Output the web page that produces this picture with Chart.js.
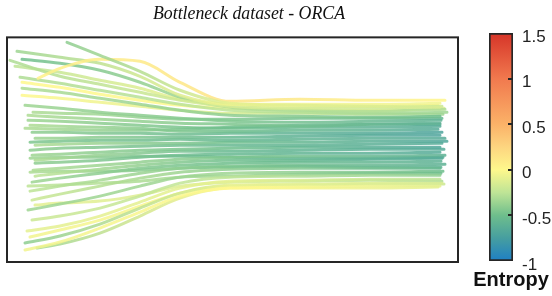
<!DOCTYPE html>
<html>
<head>
<meta charset="utf-8">
<script src="https://cdn.jsdelivr.net/npm/chart.js@4/dist/chart.umd.min.js"></script>
<style>
  body { margin: 0; background: #fff; overflow: hidden; }
  #main { position: absolute; left: 0; top: 0; }
  #bar { position: absolute; left: 470px; top: 0; }
</style>
</head>
<body>
<canvas id="main" width="498" height="296"></canvas>
<canvas id="bar" width="82" height="296"></canvas>
<script>
// trajectory samples: start point, y at shared x columns, end point
const columnX = [60, 100, 140, 180, 230, 300, 370];
const startX = [67, 38, 17, 10, 22, 20, 22, 22, 22, 25, 28, 28, 30, 32, 35, 30, 35, 30, 32, 35,
                35, 33, 35, 32, 30, 32, 28, 32, 27, 25, 25, 37, 25, 30, 28, 35, 30, 15, 33, 30];
const startY = [42, 78, 51, 60, 59, 77, 82, 88, 95, 105, 115, 120, 125, 132, 138, 142, 145, 150, 155, 160,
                163, 170, 176, 182, 191, 200, 210, 220, 231, 243, 250, 248, 128, 172, 186, 205, 237, 66, 112, 158];
const endX = [440, 445, 440, 442, 445, 447, 444, 440, 443, 441, 440, 440, 438, 442, 440, 445, 447, 442, 440, 444,
              440, 445, 442, 441, 445, 440, 443, 440, 440, 442, 440, 438, 440, 441, 441, 442, 444, 438, 442, 443];
const endY = [107, 100, 103, 106, 109, 112, 108, 116, 114, 120, 123, 126, 129, 132, 135, 138, 141, 143, 147, 149,
              152, 155, 158, 161, 164, 168, 171, 175, 179, 183, 186, 187, 124, 167, 173, 181, 184, 105, 118, 157];
const pathY = [
  [null, 55, 71, 90, 103, 105, 106],
  [68, 59, 61, 82, 101, 99, 100],
  [57, 63, 76, 95, 104, 104, 104],
  [76, 84, 92, 100, 106, 108, 108],
  [63, 70, 82, 97, 107, 110, 111],
  [83, 90, 97, 104, 110, 112, 113],
  [87, 94, 100, 105, 108, 109, 110],
  [92, 98, 104, 110, 115, 116, 117],
  [98, 102, 106, 110, 113, 113, 114],
  [108, 112, 115, 118, 121, 122, 121],
  [117, 119, 121, 123, 124, 126, 124],
  [121, 123, 125, 127, 128, 127, 127],
  [126, 127, 128, 131, 131, 130, 130],
  [132, 133, 133, 134, 133, 133, 133],
  [138, 137, 137, 137, 137, 136, 135],
  [141, 140, 140, 139, 140, 139, 138],
  [144, 143, 143, 143, 142, 142, 141],
  [148, 147, 146, 145, 145, 145, 144],
  [154, 152, 150, 149, 148, 147, 147],
  [158, 155, 153, 151, 151, 150, 149],
  [162, 160, 157, 155, 154, 153, 153],
  [168, 165, 162, 159, 157, 156, 156],
  [173, 169, 165, 162, 160, 160, 159],
  [178, 173, 168, 165, 163, 162, 162],
  [186, 180, 173, 168, 166, 165, 165],
  [194, 186, 178, 172, 169, 168, 168],
  [204, 196, 186, 177, 173, 172, 172],
  [216, 208, 196, 183, 177, 176, 175],
  [226, 216, 202, 188, 181, 180, 179],
  [236, 224, 208, 193, 185, 184, 183],
  [242, 228, 212, 196, 188, 187, 186],
  [244, 233, 216, 198, 188, 188, 188],
  [129, 130, 130, 129, 127, 125, 124],
  [171, 171, 170, 168, 167, 166, 167],
  [185, 183, 181, 177, 176, 174, 173],
  [203, 201, 195, 186, 182, 181, 180],
  [230, 220, 206, 193, 186, 185, 184],
  [72, 80, 88, 99, 104, 106, 106],
  [113, 114, 117, 119, 119, 118, 118],
  [157, 157, 156, 156, 157, 158, 158]
];
// entropy at the start, the middle (x = 230) and the end of each trajectory
const entropyL = [-0.4, 0.05, -0.35, -0.3, -0.5, -0.3, 0.0, -0.3, 0.0, -0.35, -0.3, -0.35, -0.3, -0.4, -0.35, -0.45, -0.3, -0.4, -0.35, -0.3,
                  -0.4, -0.3, -0.25, -0.35, -0.25, -0.2, -0.35, -0.2, -0.1, -0.4, -0.05, -0.35, -0.3, -0.3, -0.25, -0.1, -0.05, -0.25, -0.3, -0.35];
const entropyM = [-0.1, 0.15, -0.05, -0.15, -0.3, -0.25, 0.0, -0.4, -0.15, -0.45, -0.45, -0.5, -0.5, -0.55, -0.55, -0.55, -0.5, -0.55, -0.5, -0.55,
                  -0.55, -0.45, -0.5, -0.5, -0.45, -0.4, -0.35, -0.25, -0.1, -0.1, 0.0, 0.02, -0.5, -0.5, -0.35, -0.15, 0.0, -0.05, -0.45, -0.55];
const entropyR = [-0.15, 0.02, -0.05, -0.2, -0.3, -0.35, -0.1, -0.5, -0.35, -0.6, -0.6, -0.65, -0.65, -0.7, -0.7, -0.65, -0.68, -0.65, -0.68, -0.65,
                  -0.65, -0.6, -0.65, -0.6, -0.6, -0.55, -0.5, -0.4, -0.25, -0.15, -0.1, -0.1, -0.6, -0.6, -0.5, -0.3, -0.2, -0.1, -0.55, -0.65];
const cbarTicks = [-1, -0.5, 0, 0.5, 1, 1.5];

// colormap (value -> colour)
const cmapStops = [
  [-1.0, [30, 127, 197]], [-0.75, [70, 158, 160]], [-0.5, [110, 190, 140]], [-0.25, [190, 228, 150]],
  [0.0, [254, 248, 140]], [0.25, [253, 213, 128]], [0.5, [251, 178, 104]], [1.0, [241, 121, 78]], [1.5, [214, 52, 40]]
];
function cmap(v, a) {
  if (a === undefined) a = 1;
  let i = 0;
  while (i < cmapStops.length - 2 && v > cmapStops[i + 1][0]) i++;
  const [v0, c0] = cmapStops[i], [v1, c1] = cmapStops[i + 1];
  const t = Math.max(0, Math.min(1, (v - v0) / (v1 - v0)));
  const c = c0.map((k, j) => Math.round(k + (c1[j] - k) * t));
  return `rgba(${c[0]},${c[1]},${c[2]},${a})`;
}

function lineGradient(chart, i) {
  const xs = chart.scales.x;
  if (!xs || !chart.chartArea) return cmap(entropyM[i], 0.85);
  const x0 = xs.getPixelForValue(startX[i]), x1 = xs.getPixelForValue(endX[i]);
  const g = chart.ctx.createLinearGradient(x0, 0, x1, 0);
  const mid = Math.max(0.05, Math.min(0.95, (xs.getPixelForValue(columnX[4]) - x0) / (x1 - x0)));
  g.addColorStop(0, cmap(entropyL[i], 0.85));
  g.addColorStop(mid, cmap(entropyM[i], 0.85));
  g.addColorStop(1, cmap(entropyR[i], 0.85));
  return g;
}

const datasets = startX.map((sx, i) => {
  const pts = [{ x: sx, y: startY[i] }];
  columnX.forEach((cx, j) => {
    if (pathY[i][j] !== null && cx > sx) pts.push({ x: cx, y: pathY[i][j] });
  });
  pts.push({ x: endX[i], y: endY[i] });
  return {
    data: pts,
    borderColor: ctx => lineGradient(ctx.chart, i),
    borderWidth: 3,
    borderCapStyle: 'round',
    pointRadius: 0,
    cubicInterpolationMode: 'monotone'
  };
});

const frame = {
  id: 'frame',
  afterDraw(chart) {
    const { ctx, chartArea: a } = chart;
    ctx.save();
    ctx.strokeStyle = '#262626';
    ctx.lineWidth = 2;
    ctx.strokeRect(a.left, a.top, a.width, a.height);
    ctx.restore();
  }
};

new Chart(document.getElementById('main'), {
  type: 'line',
  data: { datasets },
  options: {
    responsive: false,
    animation: false,
    layout: { padding: { left: 7, right: 7, bottom: 34 } },
    scales: {
      x: { type: 'linear', min: 7, max: 458, display: false },
      y: {
        min: 37, max: 262, reverse: true, position: 'right',
        afterFit(scale) { scale.width = 33; },
        grid: { display: false, drawTicks: false },
        border: { display: false },
        ticks: { display: false }
      }
    },
    plugins: {
      legend: { display: false },
      tooltip: { enabled: false },
      title: {
        display: true,
        text: 'Bottleneck dataset - ORCA',
        color: '#111',
        font: { family: 'Liberation Serif', style: 'italic', size: 17.8, weight: 'normal' },
        padding: { top: 4, bottom: 12 }
      }
    }
  },
  plugins: [frame]
});

// colorbar
const barTicks = {
  id: 'barTicks',
  afterDraw(chart) {
    const { ctx, chartArea: a } = chart;
    const ys = chart.scales.y;
    ctx.save();
    ctx.strokeStyle = '#262626';
    ctx.lineWidth = 2;
    cbarTicks.slice(1, -1).forEach(v => {
      const y = Math.round(ys.getPixelForValue(v));
      ctx.beginPath();
      ctx.moveTo(a.right - 5, y);
      ctx.lineTo(a.right, y);
      ctx.stroke();
    });
    ctx.restore();
  }
};

new Chart(document.getElementById('bar'), {
  type: 'bar',
  data: {
    labels: [''],
    datasets: [{
      data: [[cbarTicks[0], cbarTicks[cbarTicks.length - 1]]],
      yAxisID: 'y',
      backgroundColor: ctx => {
        const chart = ctx.chart;
        const ys = chart.scales.y;
        if (!ys || !chart.chartArea) return cmap(0);
        const y0 = ys.getPixelForValue(-1), y1 = ys.getPixelForValue(1.5);
        const g = chart.ctx.createLinearGradient(0, y0, 0, y1);
        cmapStops.forEach(([v]) => g.addColorStop((v + 1) / 2.5, cmap(v)));
        return g;
      },
      borderColor: '#262626',
      borderWidth: 2,
      borderSkipped: false,
      barPercentage: 1,
      categoryPercentage: 1
    }]
  },
  options: {
    responsive: false,
    animation: false,
    layout: { padding: { top: 33 } },
    scales: {
      x: { display: false },
      yl: {
        position: 'left',
        min: -1, max: 1.5,
        afterFit(scale) { scale.width = 19; },
        grid: { display: false, drawTicks: false },
        border: { display: false },
        ticks: { display: false }
      },
      y: {
        position: 'right',
        min: -1, max: 1.5,
        afterFit(scale) { scale.width = 39; },
        grid: { display: false, drawTicks: false },
        border: { display: false },
        ticks: {
          stepSize: 0.5,
          padding: 9,
          labelOffset: 4,
          color: '#222',
          font: { family: 'Liberation Sans', size: 17 },
          callback: v => String(v)
        }
      }
    },
    plugins: {
      legend: { display: false },
      tooltip: { enabled: false },
      title: {
        display: true,
        position: 'bottom',
        text: 'Entropy',
        color: '#111',
        font: { family: 'Liberation Sans', size: 20, weight: 'bold' },
        padding: { top: 7, bottom: 4 }
      }
    }
  },
  plugins: [barTicks]
});
</script>
</body>
</html>
